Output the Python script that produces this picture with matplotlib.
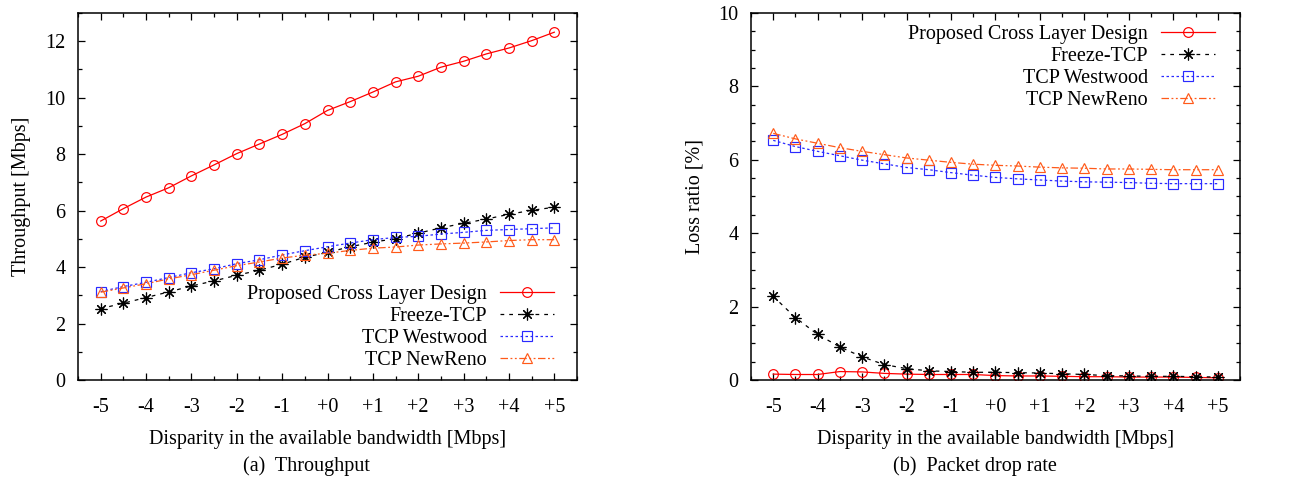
import matplotlib
matplotlib.use("Agg")
import matplotlib.pyplot as plt
from matplotlib.ticker import MultipleLocator

plt.rcParams['font.family'] = ['Liberation Serif', 'DejaVu Serif']
plt.rcParams['font.size'] = 14.5

x = [-5, -4.5, -4, -3.5, -3, -2.5, -2, -1.5, -1, -0.5, 0, 0.5, 1, 1.5, 2, 2.5, 3, 3.5, 4, 4.5, 5]
xtick_vals = [-5, -4, -3, -2, -1, 0, 1, 2, 3, 4, 5]
xtick_labels = ["-5", "-4", "-3", "-2", "-1", "+0", "+1", "+2", "+3", "+4", "+5"]
series_names = ["Proposed Cross Layer Design", "Freeze-TCP", "TCP Westwood", "TCP NewReno"]

thr_proposed = [5.63, 6.07, 6.48, 6.81, 7.23, 7.62, 8.02, 8.36, 8.70, 9.08, 9.55, 9.86, 10.20, 10.56,
                10.76, 11.08, 11.29, 11.55, 11.76, 12.02, 12.32]
thr_freeze = [2.53, 2.72, 2.92, 3.12, 3.33, 3.51, 3.71, 3.89, 4.10, 4.35, 4.52, 4.72, 4.88, 5.01,
              5.20, 5.39, 5.55, 5.70, 5.87, 6.01, 6.12]
thr_westwood = [3.13, 3.31, 3.46, 3.63, 3.80, 3.94, 4.12, 4.26, 4.43, 4.58, 4.72, 4.85, 4.97, 5.05,
                5.09, 5.17, 5.23, 5.30, 5.33, 5.36, 5.39]
thr_newreno = [3.11, 3.26, 3.41, 3.58, 3.73, 3.89, 4.05, 4.18, 4.32, 4.42, 4.49, 4.59, 4.67, 4.71,
               4.78, 4.82, 4.85, 4.89, 4.94, 4.97, 4.97]

loss_proposed = [0.16, 0.15, 0.15, 0.23, 0.22, 0.18, 0.16, 0.15, 0.15, 0.15, 0.12, 0.11, 0.11, 0.10,
                 0.09, 0.09, 0.08, 0.08, 0.08, 0.07, 0.06]
loss_freeze = [2.28, 1.70, 1.24, 0.90, 0.63, 0.42, 0.31, 0.25, 0.23, 0.21, 0.21, 0.20, 0.19, 0.17,
               0.15, 0.12, 0.11, 0.10, 0.10, 0.09, 0.08]
loss_westwood = [6.53, 6.36, 6.23, 6.11, 5.99, 5.89, 5.79, 5.73, 5.65, 5.58, 5.52, 5.48, 5.45, 5.42,
                 5.40, 5.39, 5.38, 5.36, 5.35, 5.35, 5.35]
loss_newreno = [6.72, 6.57, 6.45, 6.33, 6.23, 6.14, 6.05, 5.99, 5.93, 5.88, 5.85, 5.83, 5.80, 5.78,
                5.77, 5.75, 5.75, 5.74, 5.73, 5.73, 5.73]

styles = [
    dict(color='#ff0000', linestyle='-', marker='o', size=7),
    dict(color='#000000', linestyle=(0, (3, 4)), marker=(8, 2, 0), size=8.5),
    dict(color='#2a2aff', linestyle=(0, (2, 2)), marker='s', size=6.5),
    dict(color='#ff5a1a', linestyle=(0, (6, 2, 1.5, 2, 1.5, 2)), marker='^', size=7),
]

W, H = 1294, 478
fig = plt.figure(figsize=(W / 100, H / 100), dpi=100)
ax1 = fig.add_axes([78 / W, (H - 380) / H, 499 / W, 367 / H])
ax2 = fig.add_axes([751 / W, (H - 380) / H, 489 / W, 367 / H])


def draw(ax, data, ylim, ymajor, yminor, ylabel, caption, caption_x, legend_loc, legend_anchor):
    for name, ys, st in zip(series_names, data, styles):
        ax.plot(x, ys, label=name, color=st['color'], linestyle=st['linestyle'], linewidth=0.9,
                marker=st['marker'], markersize=st['size'],
                markerfacecolor='none', markeredgecolor=st['color'], markeredgewidth=0.85)
    ax.set_xlim(-5.5, 5.5)
    ax.set_ylim(*ylim)
    ax.set_xticks(xtick_vals)
    ax.set_xticklabels(xtick_labels)
    ax.xaxis.set_minor_locator(MultipleLocator(0.5))
    ax.yaxis.set_major_locator(MultipleLocator(ymajor))
    ax.yaxis.set_minor_locator(MultipleLocator(yminor))
    ax.tick_params(which='both', direction='in', top=True, right=True, width=0.9)
    ax.tick_params(which='major', length=5)
    ax.tick_params(axis='x', which='major', pad=13)
    ax.tick_params(axis='y', which='major', pad=9)
    ax.tick_params(which='minor', length=3)
    for sp in ax.spines.values():
        sp.set_linewidth(1.1)
    ax.set_xlabel("Disparity in the available bandwidth [Mbps]", labelpad=9)
    ax.set_ylabel(ylabel, labelpad=10)
    ax.text(caption_x, -0.235, caption, transform=ax.transAxes, ha='center', va='center')
    leg = ax.legend(loc=legend_loc, bbox_to_anchor=legend_anchor, frameon=False, markerfirst=False,
                    handlelength=2.7, handletextpad=0.65, labelspacing=0.14, borderpad=0.2,
                    borderaxespad=0.3)
    return leg


draw(ax1, [thr_proposed, thr_freeze, thr_westwood, thr_newreno], (0, 13), 2, 1,
     "Throughput [Mbps]", "(a)  Throughput", 0.457, 'lower right', (0.975, 0.0))
draw(ax2, [loss_proposed, loss_freeze, loss_westwood, loss_newreno], (0, 10), 2, 0.5,
     "Loss ratio [%]", "(b)  Packet drop rate", 0.457, 'upper right', (0.97, 0.995))

fig.savefig("out.png", dpi=100)
